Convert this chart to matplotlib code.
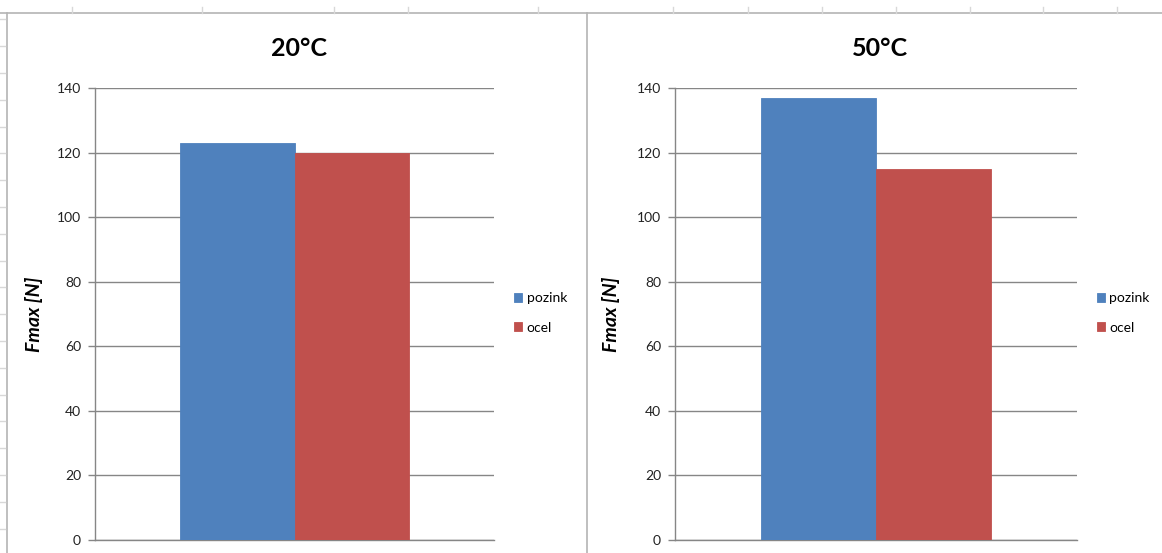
import matplotlib
matplotlib.use("Agg")
import matplotlib.pyplot as plt
from matplotlib.lines import Line2D

# Fmax per material, two temperatures
titles = ["20°C", "50°C"]
series = ["pozink", "ocel"]
pozink = [123, 137]
ocel = [120, 115]
yticks = [0, 20, 40, 60, 80, 100, 120, 140]

colors = ["#4F81BD", "#C0504D"]
grid_c = "#868686"
W, H = 1162, 553

fig = plt.figure(figsize=(W / 100, H / 100), dpi=100)
fig.patch.set_facecolor("white")

def fx(px):
    return px / W

def fy(py):
    return 1 - py / H

# sheet frame lines
frame = "#b4b4b4"
fig.add_artist(Line2D([0, 1], [fy(13), fy(13)], color=frame, lw=1.2))
fig.add_artist(Line2D([fx(7), fx(7)], [0, fy(13)], color=frame, lw=1.2))
fig.add_artist(Line2D([fx(587), fx(587)], [0, fy(13)], color=frame, lw=1.2))
for cx in [72, 202, 334, 408, 538, 673, 748, 822, 896, 970, 1043, 1117]:
    fig.add_artist(Line2D([fx(cx), fx(cx)], [fy(13), fy(7)], color="#d8d8d8", lw=1))
ry = 19.4
while ry < H:
    fig.add_artist(Line2D([0, fx(5)], [fy(ry), fy(ry)], color="#d8d8d8", lw=1))
    ry += 26.8

panels = [
    dict(left=95, right=494, title_x=299, leg_x=514, lab_x=43),
    dict(left=675, right=1077, title_x=880, leg_x=1097, lab_x=620),
]

for i, p in enumerate(panels):
    ax = fig.add_axes([fx(p["left"]), fy(540), fx(p["right"] - p["left"]), (540 - 88) / H])
    w = 0.287
    vals = [pozink[i], ocel[i]]
    for j, (name, v) in enumerate(zip(series, vals)):
        ax.bar((j - 0.5) * w, v, width=w, color=colors[j], label=name,
               edgecolor=colors[j], linewidth=0.6, zorder=3)
    ax.set_xlim(-0.5, 0.5)
    ax.set_ylim(0, 140)
    ax.set_yticks(yticks)
    ax.set_xticks([])
    ax.yaxis.grid(True, color=grid_c, lw=1.0, zorder=0)
    ax.set_axisbelow(True)
    for s in ["top", "right"]:
        ax.spines[s].set_visible(False)
    for s in ["left", "bottom"]:
        ax.spines[s].set_color(grid_c)
        ax.spines[s].set_linewidth(1.0)
    ax.tick_params(axis="y", length=5, width=1.0, color=grid_c, pad=5,
                   labelsize=10, labelcolor="#222222")
    for t in ax.get_yticklabels():
        t.set_fontfamily("Lato")
    ax.set_ylabel("Fmax [N]", fontfamily="Lato", fontsize=14,
                  fontweight="bold", fontstyle="italic")
    ax.yaxis.set_label_coords((p["lab_x"] - p["left"]) / (p["right"] - p["left"]), 0.5)

    fig.text(fx(p["title_x"]), fy(48), titles[i], ha="center", va="center",
             fontfamily="Lato", fontweight="bold", fontsize=18)

    fig.legend(handles=ax.patches, labels=series, loc="center left",
               bbox_to_anchor=(fx(p["leg_x"]), fy(313)), frameon=False,
               prop={"family": "Lato", "size": 10}, handlelength=0.6,
               handleheight=0.6, handletextpad=0.3, labelspacing=1.25,
               borderaxespad=0, borderpad=0)

fig.savefig("out.png", dpi=100)
